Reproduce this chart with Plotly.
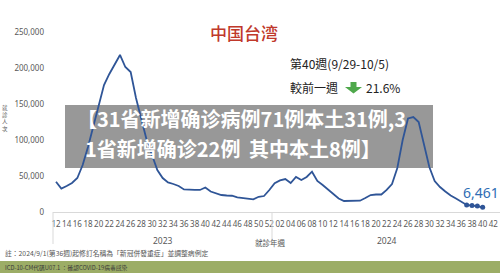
import plotly.graph_objects as go

# ---------------- data ----------------
years = ["2023"] * 41 + ["2024"] * 42
weeks_2023 = [str(w) for w in range(12, 53)]
weeks_2024 = [f"{w:02d}" for w in range(1, 43)]
week_labels = weeks_2023 + weeks_2024
categories = [f"{y}-W{w}" for y, w in zip(years, week_labels)]

# weekly visits (就診人次), 2023 W12 .. 2024 W40
visits = [
    42100, 32600, 36100, 40300, 47200, 65300, 90300, 119400, 147200, 176400,
    191700, 204200, 218100, 201400, 194400, 158300, 127800, 100000, 79200, 58300,
    47200, 41000, 38900, 36100, 31300, 30600, 30600, 30600, 34000, 28500,
    25700, 23600, 22900, 22600, 20400, 19700, 19000, 17600, 21100, 22200,
    30600,
    39900, 43800, 45800, 40300, 48600, 44400, 48600, 56000, 43100, 37500,
    31300, 25000, 18800, 15300, 15300, 15300, 15700, 19400, 23600, 24300,
    24300, 30600, 38900, 61100, 100000, 129900, 131900, 125000, 95800, 62500,
    43100, 34700, 28500, 22900, 18800, 13900, 9800, 8900, 8240, 6461,
]
recent_n = 4  # last weeks drawn with markers

y_ticks = [0, 50000, 100000, 150000, 200000, 250000]
y_ticktext = ["0", "50,000", "100,000", "150,000", "200,000", "250,000"]

title_text = "中国台湾"
week_text = "第40週(9/29-10/5)"
change_label = "較前一週"
change_value = "21.6%"
banner_line1 = "【31省新增确诊病例71例本土31例,3"
banner_line2a = "1省新增确诊22例"
banner_line2b = "其中本土8例】"
y_title_chars = ["就", "診", "人", "次"]
x_title = "就診年週"
note_text = "註：2024/9/1(第36週)起修訂名稱為「新冠併發重症」並調整病例定"
footer_text = "ICD-10-CM代碼U07.1 ：確認COVID-19病毒感染"

# ---------------- layout helpers ----------------
W, H = 500, 273
ML, MR, MT, MB = 53, 0, 20, 61
PW, PH = W - ML - MR, H - MT - MB


def px(x):
    return (x - ML) / PW


def py(y):
    return (H - MB - y) / PH


LINE = "#2F5597"
GRAY = "#595959"
CJK = "Noto Sans CJK TC"

fig = go.Figure()
fig.add_trace(go.Scatter(
    x=categories[:len(visits)], y=visits, mode="lines",
    line=dict(color=LINE, width=1.8), hoverinfo="skip", showlegend=False,
))
fig.add_trace(go.Scatter(
    x=categories[len(visits) - recent_n:len(visits)], y=visits[-recent_n:],
    mode="markers", marker=dict(color=LINE, size=5), hoverinfo="skip",
    showlegend=False,
))

shapes = []
# banner
shapes.append(dict(type="rect", xref="paper", yref="paper",
                   x0=px(65), x1=px(433), y0=py(168), y1=py(105),
                   fillcolor="rgb(152,152,152)", line=dict(width=0), layer="below"))
# category dividers
for xv in (53, 272):
    shapes.append(dict(type="line", xref="paper", yref="paper",
                       x0=px(xv), x1=px(xv), y0=py(212), y1=py(244),
                       line=dict(color="#d9d9d9", width=1)))
# green footer bar
shapes.append(dict(type="rect", xref="paper", yref="paper",
                   x0=px(0), x1=px(500), y0=py(273), y1=py(261),
                   fillcolor="#9CAD66", line=dict(width=0)))
# green down arrow
arrow_pts = [(350.5, 82), (356.5, 82), (356.5, 87), (362, 87), (353.5, 93.5), (345, 87), (350.5, 87)]
path = "M " + " L ".join(f"{px(a):.5f},{py(b):.5f}" for a, b in arrow_pts) + " Z"
shapes.append(dict(type="path", xref="paper", yref="paper", path=path,
                   fillcolor="#4FA84B", line=dict(width=0)))

ann = []


def add_text(text, x, y, size, color, xanchor="left", family=CJK, weight=None):
    f = dict(size=size, color=color, family=family)
    if weight:
        f["weight"] = weight
    ann.append(dict(text=text, xref="paper", yref="paper", x=px(x), y=py(y),
                    xanchor=xanchor, yanchor="middle", showarrow=False, font=f,
                    borderpad=0))


add_text(title_text, 244, 32, 17, "#C0392B", xanchor="center", weight=500)
add_text(week_text, 289, 64, 12, "#222222")
add_text(change_label, 289, 87, 12, "#222222")
add_text(change_value, 365, 87, 12, "#222222")
add_text(banner_line1, 76, 118, 20, "white", weight=700, family="Noto Sans CJK SC")
add_text(banner_line2a, 84, 148, 20, "white", weight=700, family="Noto Sans CJK SC")
add_text(banner_line2b, 248, 148, 20, "white", weight=700, family="Noto Sans CJK SC")
add_text("<br>".join(y_title_chars), 5, 118, 5.5, GRAY, xanchor="center")
add_text(years[0], 163, 240, 8.5, GRAY, xanchor="center", family="Noto Sans")
add_text(years[-1], 387, 240, 8.5, GRAY, xanchor="center", family="Noto Sans")
add_text(x_title, 270, 242, 7.5, GRAY, xanchor="center")
add_text(note_text, 4, 253, 6.8, "#555555")
add_text(footer_text, 4, 267, 5.8, "#3a3a3a")

# last value label
ann.append(dict(text=f"{visits[-1]:,}", x=categories[len(visits) - 1], y=visits[-1],
                xref="x", yref="y", showarrow=False, xanchor="center", yanchor="middle",
                xshift=-2, yshift=15, font=dict(size=14, color="#2E6DB4", family="Noto Sans")))

tickvals = categories[::2]
ticktext = week_labels[::2]

fig.update_layout(
    width=W, height=H, margin=dict(l=ML, r=MR, t=MT, b=MB),
    paper_bgcolor="white", plot_bgcolor="white",
    shapes=shapes, annotations=ann,
    xaxis=dict(type="category", categoryorder="array", categoryarray=categories,
               range=[-0.5625, 83.25], tickvals=tickvals, ticktext=ticktext,
               tickangle=0, showgrid=False, zeroline=False, showline=True,
               linecolor="#d9d9d9", linewidth=1, ticks="",
               tickfont=dict(size=8, color=GRAY, family="Noto Sans"),
               ticklabelstandoff=4),
    yaxis=dict(range=[0, (H - MB - MT) * 50000 / 36], tickvals=y_ticks,
               ticktext=y_ticktext, showgrid=False, zeroline=False,
               showline=False, ticks="",
               tickfont=dict(size=8, color=GRAY, family="Noto Sans"),
               ticklabelstandoff=8),
)

fig.write_html("out.html")
